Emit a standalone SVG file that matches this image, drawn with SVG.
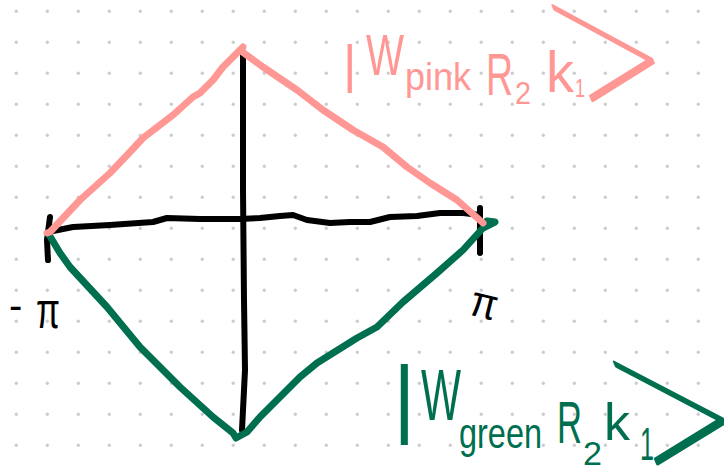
<svg xmlns="http://www.w3.org/2000/svg" width="724" height="467" viewBox="0 0 724 467">
<defs>
<pattern id="dots" patternUnits="userSpaceOnUse" width="31" height="31">
<circle cx="16.3" cy="11.3" r="1.7" fill="#cdcdcd"/>
</pattern>
<style>
.ln{fill:none;stroke-linecap:round;stroke-linejoin:round}
.blk{stroke:#000;stroke-width:6}
.pk{stroke:#ff9895;stroke-width:7}
.gr{stroke:#006f4f;stroke-width:7}
.t{font-family:"Liberation Sans",Arial,sans-serif}
.tp{fill:#ff9895}
.tg{fill:#006f4f}
.tb{fill:#000}
.ket{font-family:Inter,"DejaVu Sans",sans-serif;font-weight:100;stroke-width:1.2;stroke-linejoin:round}
.ket.tp{stroke:#ff9895}
.ket.tg{stroke:#006f4f}
</style>
</defs>
<rect width="724" height="467" fill="#fff"/>
<rect width="724" height="467" fill="url(#dots)"/>
<g id="axes">
<path class="ln blk" d="M48,232 L73,227 L110,225 L153,222 L167,218 L200,219 L240,219 L260,218 L280,216 L293,215 L307,220 L330,223 L350,222 L370,222 L390,217 L417,216 L440,213 L463,213 L480,215"/>
<path class="ln blk" d="M50,217 L47,240 L48,260"/>
<path class="ln blk" d="M480,208 L480,253"/>
<path class="ln blk" d="M243,52 L243,190 L244,300 L245,370 L243,410 L242,430"/>
</g>
<g id="green-curve">
<path class="ln gr" d="M48,233 L60,253 L70,267 L107,307 L140,347 L180,387 L213,417 L233,433 L236,438 L247,432 L260,417 L277,400 L300,377 L317,363 L357,338 L377,327 L403,302 L437,273 L463,250 L483,228 L495,222 L487,221"/>
</g>
<g id="pink-curve">
<path class="ln pk" d="M47,233 L50,232 L80,200 L110,173 L130,152 L143,138 L173,115 L193,97 L200,93 L213,80 L223,67 L243,47 L241,51 L263,67 L297,90 L323,110 L353,130 L383,147 L407,167 L430,183 L457,200 L483,223"/>
</g>
<g id="tick-labels">
<text class="t tb" x="9" y="319" font-size="40">-</text>
<text class="t tb" x="36" y="328" font-size="52" textLength="24" lengthAdjust="spacingAndGlyphs">π</text>
<text class="t tb" x="471" y="318" font-size="44" textLength="27" lengthAdjust="spacingAndGlyphs" transform="rotate(14 485 303)">π</text>
</g>
<g id="pink-label">
<text class="t tp" x="343" y="82" font-size="52">|</text>
<text class="t tp" x="366" y="75" font-size="58" textLength="38" lengthAdjust="spacingAndGlyphs">W</text>
<text class="t tp" x="405" y="90" font-size="38" textLength="66" lengthAdjust="spacingAndGlyphs">pink</text>
<text class="t tp" x="486" y="95" font-size="60" textLength="27" lengthAdjust="spacingAndGlyphs">R</text>
<text class="t tp" x="515" y="104" font-size="32" textLength="16" lengthAdjust="spacingAndGlyphs">2</text>
<text class="t tp" x="546" y="92" font-size="58" textLength="28" lengthAdjust="spacingAndGlyphs">k</text>
<text class="t tp" x="575" y="97" font-size="26" textLength="10" lengthAdjust="spacingAndGlyphs">1</text>
<text class="ket tp" x="0" y="0" font-size="100" transform="matrix(2.066 0.197 0.755 1.816 564.2 101.7)">&gt;</text>
</g>
<g id="green-label">
<text class="t tg" x="393" y="427" font-size="87">|</text>
<text class="t tg" x="421" y="420" font-size="72" textLength="40" lengthAdjust="spacingAndGlyphs">W</text>
<text class="t tg" x="459" y="448" font-size="42" textLength="83" lengthAdjust="spacingAndGlyphs">green</text>
<text class="t tg" x="557" y="443" font-size="60" textLength="25" lengthAdjust="spacingAndGlyphs">R</text>
<text class="t tg" x="583" y="465" font-size="34" textLength="19" lengthAdjust="spacingAndGlyphs">2</text>
<text class="t tg" x="604" y="440" font-size="52" textLength="26" lengthAdjust="spacingAndGlyphs">k</text>
<text class="t tg" x="640" y="460" font-size="46" textLength="14" lengthAdjust="spacingAndGlyphs">1</text>
<text class="ket tg" x="0" y="0" font-size="100" transform="matrix(2.263 0.197 0.816 1.939 626.5 465.2)">&gt;</text>
</g>
</svg>
